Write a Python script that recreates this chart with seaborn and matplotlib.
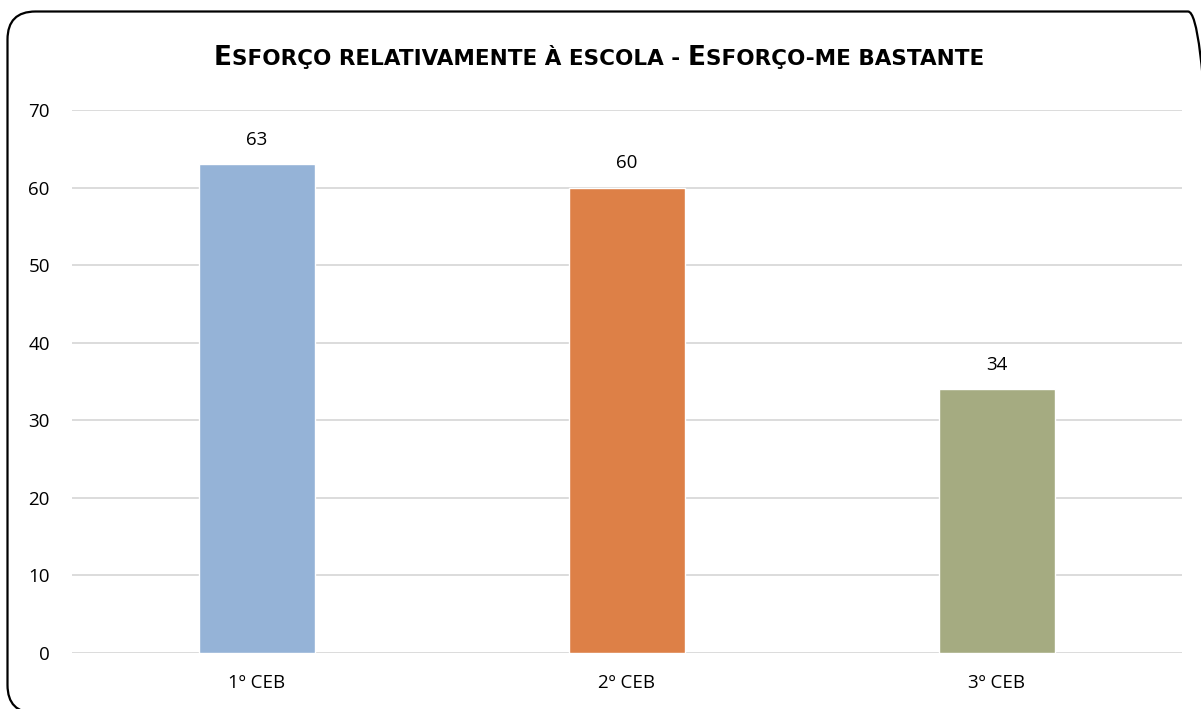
import matplotlib
matplotlib.use("Agg")
import matplotlib.pyplot as plt
import seaborn as sns
import pandas as pd
from matplotlib.patches import FancyBboxPatch

categories = ["1º CEB", "2º CEB", "3º CEB"]
values = [63, 60, 34]
colors = ["#95B3D7", "#DD8047", "#A5AB81"]
yticks = [0, 10, 20, 30, 40, 50, 60, 70]
title = "Esforço relativamente à escola - Esforço-me bastante"

sns.set_theme(style="white")
plt.rcParams['font.family'] = ['Open Sans', 'DejaVu Sans']

W, H = 1201, 709
fig = plt.figure(figsize=(W / 100, H / 100), dpi=100)
ax = fig.add_axes([72 / W, 1 - 653 / H, (1182 - 72) / W, (653 - 110) / H])

df = pd.DataFrame({"cat": categories, "val": values})
sns.barplot(data=df, x="cat", y="val", hue="cat", palette=colors, width=0.314,
            legend=False, ax=ax, saturation=1)

ax.set_ylim(0, 70)
ax.set_xlim(-0.5, 2.5)
ax.set_yticks(yticks)
ax.set_yticklabels([str(t) for t in yticks], fontsize=13.5, color="#000000")
ax.tick_params(axis="x", labelsize=13.5, colors="#000000", length=0, pad=15)
ax.tick_params(axis="y", length=0, pad=16)
ax.set_xlabel("")
ax.set_ylabel("")
for t in yticks:
    ax.axhline(t, color="#D9D9D9", lw=1.3, zorder=0)
for s in ax.spines.values():
    s.set_visible(False)

for i, v in enumerate(values):
    ax.annotate(str(v), (i, v), xytext=(0, 17.5), textcoords="offset points",
                ha="center", va="center", fontsize=13.5, color="#000000")

# Small-caps title
segments = []
cur, cur_up = "", None
for ch in title:
    if ch.isalpha():
        up = ch.isupper()
    else:
        up = cur_up if cur_up is not None else True
    if cur_up is None or up == cur_up:
        cur += ch
        cur_up = up
    else:
        segments.append((cur, cur_up))
        cur, cur_up = ch, up
segments.append((cur, cur_up))

renderer = fig.canvas.get_renderer()
big, small = 19, 15.5
texts = []
for s, up in segments:
    t = fig.text(0, 0, s.upper(), fontsize=big if up else small, fontweight="bold",
                 color="#000000", ha="left", va="baseline",
                 family=["DejaVu Sans"])
    texts.append(t)
widths = [t.get_window_extent(renderer).width for t in texts]
total = sum(widths)
x = 599 - total / 2
base_y = 1 - 65 / H
for t, w in zip(texts, widths):
    t.set_position((x / W, base_y))
    x += w

# Rounded border (right and bottom edges fall just outside the image)
x0, y0, x1, y1 = 7.5, 11.5, 1216, 713
border = FancyBboxPatch((x0 / W, 1 - y1 / H), (x1 - x0) / W, (y1 - y0) / H,
                        boxstyle="round,pad=0,rounding_size=%f" % (28 / W),
                        transform=fig.transFigure, fill=False, edgecolor="black",
                        lw=1.6, mutation_aspect=W / H, clip_on=False)
fig.patches.append(border)

fig.savefig("out.png", dpi=100)
